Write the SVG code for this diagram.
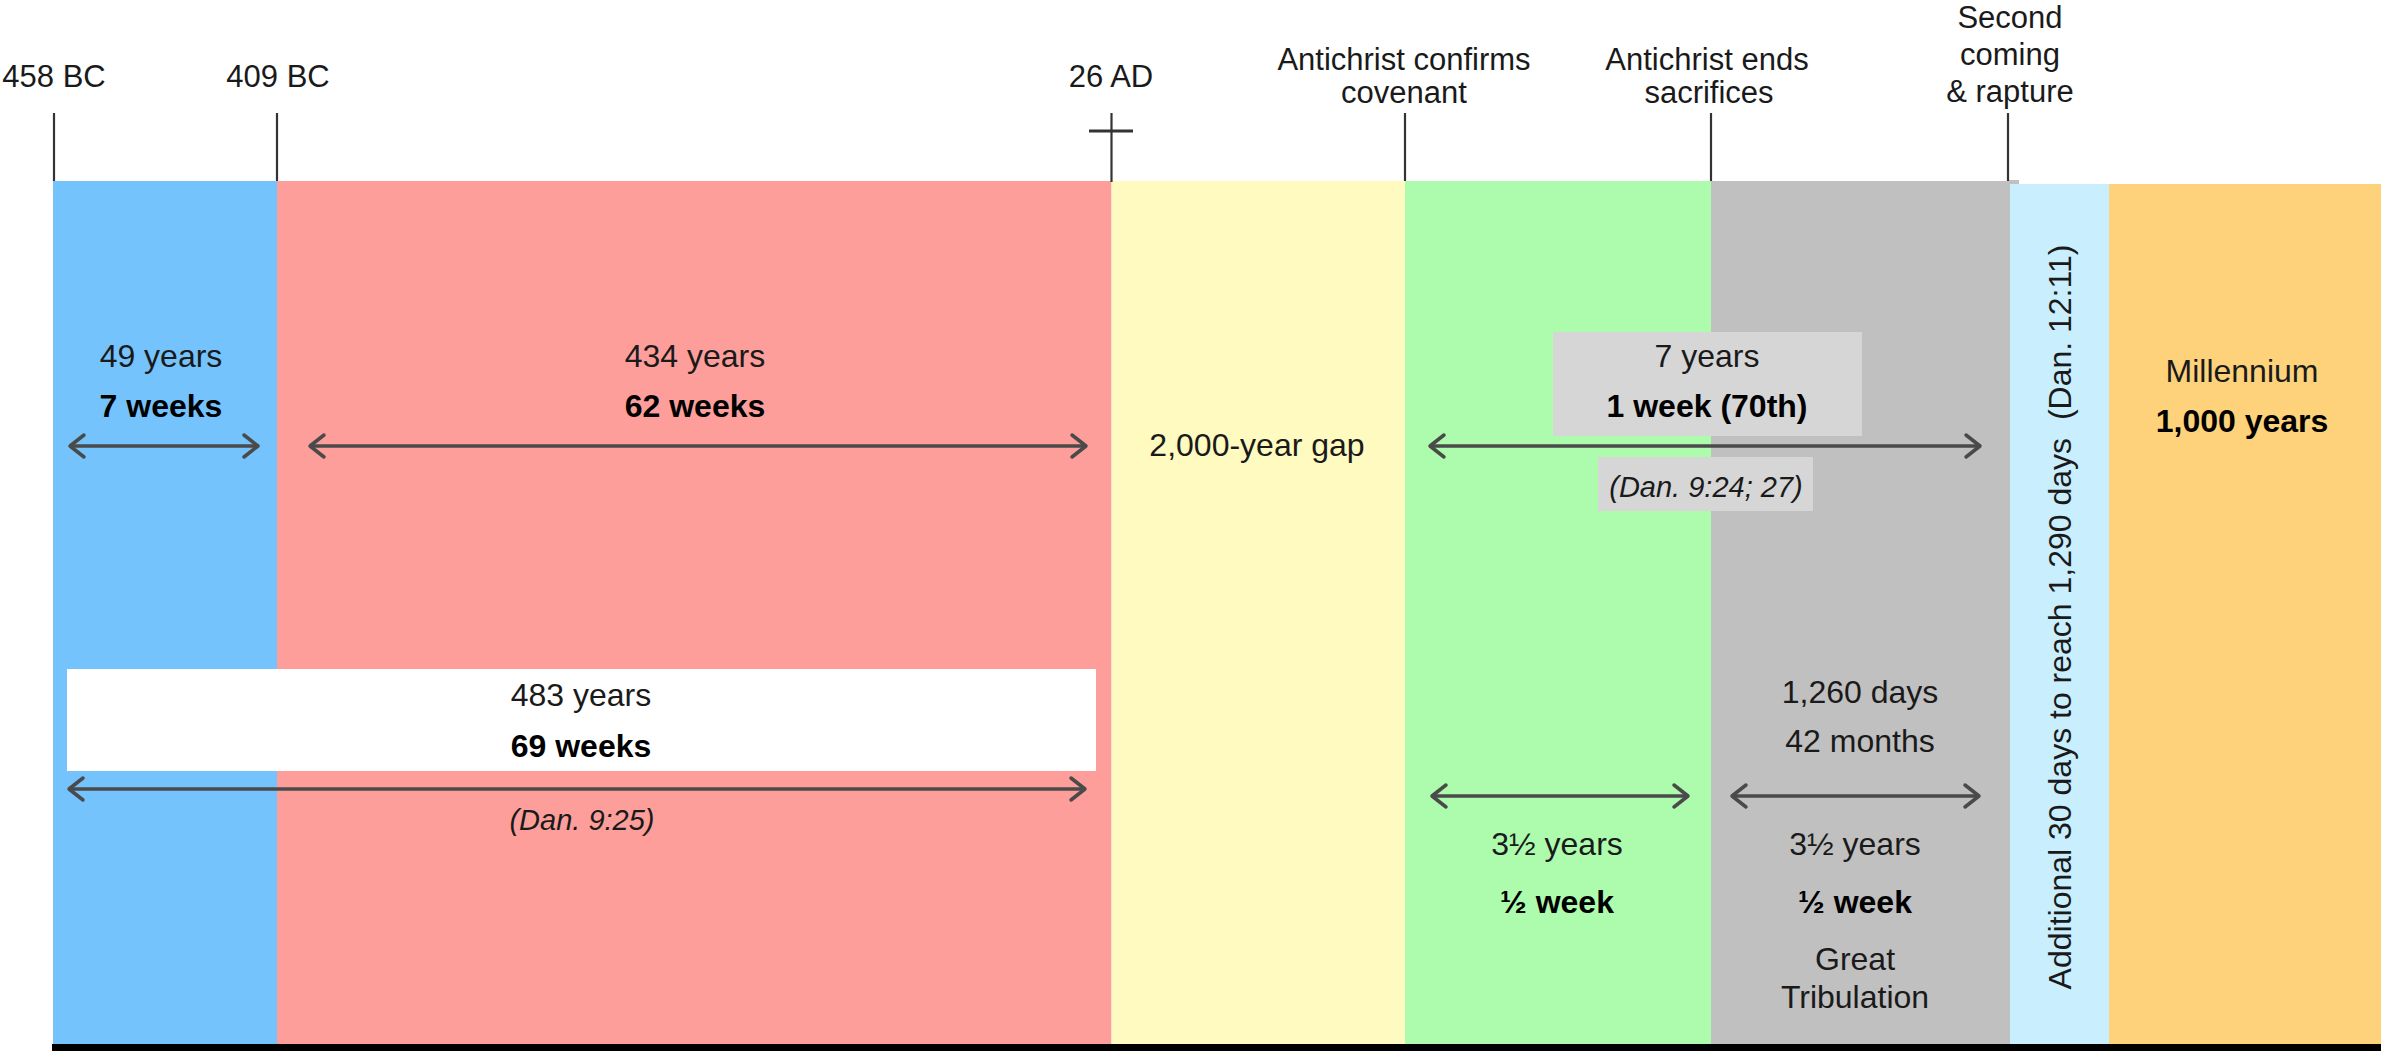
<svg xmlns="http://www.w3.org/2000/svg" width="2381" height="1063" viewBox="0 0 2381 1063">
<style>
text{font-family:"Liberation Sans",Arial,sans-serif;fill:#1a1a1a;text-anchor:middle}
.top{font-size:31px}
.m{font-size:32px}
.b{font-size:32px;font-weight:bold;fill:#000}
.i{font-size:29px;font-style:italic}
.tick{stroke:#333;stroke-width:2.2;fill:none}
.arr{stroke:#4a4a4a;stroke-width:3.5;fill:none;marker-start:url(#ah);marker-end:url(#ah)}
</style>
<defs>
<marker id="ah" markerUnits="userSpaceOnUse" markerWidth="24" markerHeight="28" refX="18" refY="14" orient="auto-start-reverse" viewBox="0 0 24 28">
<path d="M4,3 L18,14 L4,25" fill="none" stroke="#4a4a4a" stroke-width="3.5" stroke-linecap="round" stroke-linejoin="round"/>
</marker>
</defs>
<g id="periods">
<rect id="p-7weeks" x="53" y="181" width="224" height="863" fill="#74C3FD"/>
<rect id="p-62weeks" x="277" y="181" width="834.5" height="863" fill="#FD9E9B"/>
<rect id="p-gap" x="1111.5" y="181" width="293.5" height="863" fill="#FEFAC0"/>
<rect id="p-half1" x="1405" y="181" width="306" height="863" fill="#ADFCAE"/>
<rect id="p-half2" x="1711" y="181" width="299" height="863" fill="#C0C0C0"/>
<rect x="2008" y="180" width="11" height="4" fill="#C0C0C0"/>
<rect id="p-30days" x="2010" y="184" width="99" height="860" fill="#C9EEFD"/>
<rect id="p-millennium" x="2109" y="184" width="272" height="860" fill="#FDD27B"/>
<rect x="52" y="1044" width="2329" height="7" fill="#000"/>
</g>
<g id="markers">
<line class="tick" x1="54" y1="113" x2="54" y2="181"/>
<line class="tick" x1="277" y1="113" x2="277" y2="181"/>
<line class="tick" x1="1111.5" y1="113" x2="1111.5" y2="182"/>
<line x1="1089" y1="131" x2="1133" y2="131" stroke="#333" stroke-width="3"/>
<line class="tick" x1="1405" y1="113" x2="1405" y2="181"/>
<line class="tick" x1="1711" y1="113" x2="1711" y2="181"/>
<line class="tick" x1="2008" y1="113" x2="2008" y2="181"/>
<text class="top" x="54" y="87">458 BC</text>
<text class="top" x="278" y="87">409 BC</text>
<text class="top" x="1111" y="87">26 AD</text>
<text class="top" x="1404" y="70">Antichrist confirms</text>
<text class="top" x="1404" y="103">covenant</text>
<text class="top" x="1707" y="70">Antichrist ends</text>
<text class="top" x="1709" y="103">sacrifices</text>
<text class="top" x="2010" y="28">Second</text>
<text class="top" x="2010" y="65">coming</text>
<text class="top" x="2010" y="102">&amp; rapture</text>
</g>
<g id="boxes">
<rect id="box-70th" x="1553" y="332" width="309" height="104" fill="#D6D6D6"/>
<rect id="box-dan924" x="1598" y="457" width="215" height="54" fill="#D6D6D6"/>
<rect id="box-69weeks" x="67" y="669" width="1029" height="102" fill="#FFFFFF"/>
</g>
<g id="connectors">
<line class="arr" x1="70" y1="446" x2="258" y2="446"/>
<line class="arr" x1="310" y1="446" x2="1086" y2="446"/>
<line class="arr" x1="1430" y1="446" x2="1980" y2="446"/>
<line class="arr" x1="69" y1="789" x2="1085" y2="789"/>
<line class="arr" x1="1432" y1="796" x2="1688" y2="796"/>
<line class="arr" x1="1732" y1="796" x2="1979" y2="796"/>
</g>
<g id="labels">
<text class="m" x="161" y="367">49 years</text>
<text class="b" x="161" y="417">7 weeks</text>
<text class="m" x="695" y="367">434 years</text>
<text class="b" x="695" y="417">62 weeks</text>
<text class="m" x="1257" y="456">2,000-year gap</text>
<text class="m" x="1707" y="367">7 years</text>
<text class="b" x="1707" y="417">1 week (70th)</text>
<text class="i" x="1706" y="497">(Dan. 9:24; 27)</text>
<text class="m" x="2242" y="382">Millennium</text>
<text class="b" x="2242" y="432">1,000 years</text>
<text class="m" x="581" y="706">483 years</text>
<text class="b" x="581" y="757">69 weeks</text>
<text class="i" x="582" y="830">(Dan. 9:25)</text>
<text class="m" x="1860" y="703">1,260 days</text>
<text class="m" x="1860" y="752">42 months</text>
<text class="m" x="1557" y="855">3½ years</text>
<text class="b" x="1557" y="913">½ week</text>
<text class="m" x="1855" y="855">3½ years</text>
<text class="b" x="1855" y="913">½ week</text>
<text class="m" x="1855" y="970">Great</text>
<text class="m" x="1855" y="1008">Tribulation</text>
<text class="m" transform="translate(2071,617) rotate(-90)" xml:space="preserve">Additional 30 days to reach 1,290 days  (Dan. 12:11)</text>
</g>
</svg>
